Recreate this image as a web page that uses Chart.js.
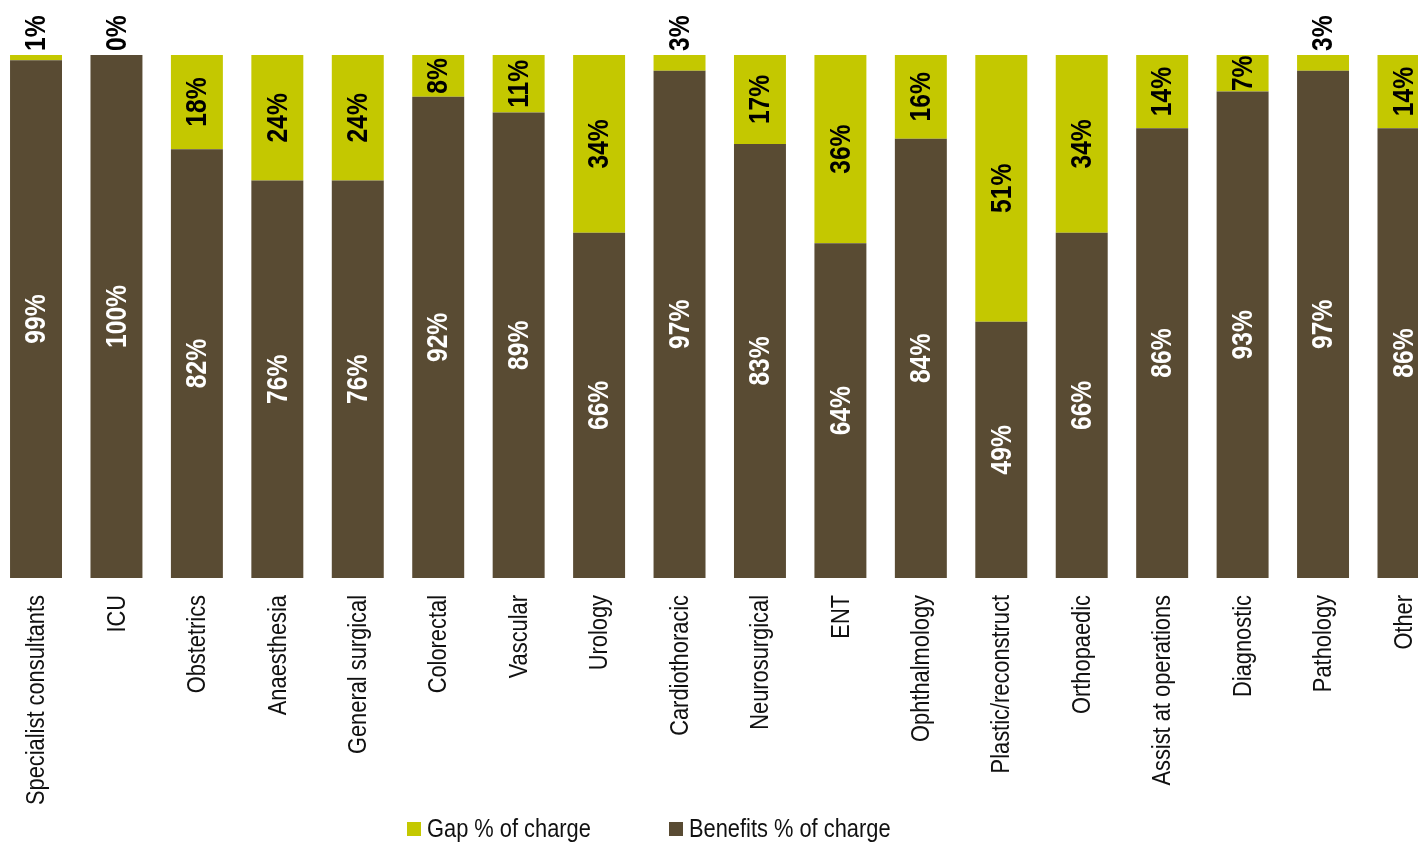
<!DOCTYPE html>
<html>
<head>
<meta charset="utf-8">
<title>Gap and benefits as % of charge</title>
<script src="https://cdn.jsdelivr.net/npm/chart.js@4.4.1/dist/chart.umd.min.js"></script>
<style>
  html, body { margin: 0; padding: 0; background: #fff; overflow: hidden; }
  #wrap { position: absolute; left: -10px; top: 0; width: 1460px; height: 847px; }
</style>
</head>
<body>
<div id="wrap"><canvas id="grafico"></canvas></div>
<script>
const categorias = ['Specialist consultants', 'ICU', 'Obstetrics', 'Anaesthesia', 'General surgical',
  'Colorectal', 'Vascular', 'Urology', 'Cardiothoracic', 'Neurosurgical', 'ENT', 'Ophthalmology',
  'Plastic/reconstruct', 'Orthopaedic', 'Assist at operations', 'Diagnostic', 'Pathology', 'Other'];
const gap = [1, 0, 18, 24, 24, 8, 11, 34, 3, 17, 36, 16, 51, 34, 14, 7, 3, 14];
const beneficios = [99, 100, 82, 76, 76, 92, 89, 66, 97, 83, 64, 84, 49, 66, 86, 93, 97, 86];

const FUENTE = '"Liberation Sans", Arial, sans-serif';
const ESTRECHO = 0.82; // compresión horizontal para imitar una fuente narrow
const ESTRECHO_TEXTO = 0.84;
const MARRON = '#594b33';
const AMARILLO = '#c4c800';

// etiquetas de valor giradas dentro de cada segmento
const etiquetasBarras = {
  id: 'etiquetasBarras',
  afterDatasetsDraw(chart) {
    const ctx = chart.ctx;
    chart.data.datasets.forEach((ds, di) => {
      const meta = chart.getDatasetMeta(di);
      meta.data.forEach((barra, i) => {
        const valor = ds.data[i];
        const arriba = Math.min(barra.y, barra.base);
        const abajo = Math.max(barra.y, barra.base);
        ctx.save();
        ctx.font = 'bold 30px ' + FUENTE;
        ctx.fillStyle = ds.colorEtiqueta;
        ctx.textBaseline = 'middle';
        if (ds.fueraSiPequeno && valor < 5) {
          // no cabe: se escribe encima de la barra
          ctx.translate(barra.x, arriba - 4);
          ctx.rotate(-Math.PI / 2);
          ctx.textAlign = 'left';
        } else {
          ctx.translate(barra.x, (arriba + abajo) / 2);
          ctx.rotate(-Math.PI / 2);
          ctx.textAlign = 'center';
        }
        ctx.scale(ESTRECHO, 1);
        ctx.fillText(valor + '%', 0, 1);
        ctx.restore();
      });
    });
  }
};

// nombres de categoría girados bajo cada barra
const etiquetasEje = {
  id: 'etiquetasEje',
  afterDraw(chart) {
    const ctx = chart.ctx;
    const eje = chart.scales.x;
    ctx.save();
    ctx.font = '26px ' + FUENTE;
    ctx.fillStyle = '#111';
    ctx.textAlign = 'right';
    ctx.textBaseline = 'middle';
    chart.data.labels.forEach((texto, i) => {
      ctx.save();
      ctx.translate(eje.getPixelForTick(i), eje.top + 17);
      ctx.rotate(-Math.PI / 2);
      ctx.scale(ESTRECHO_TEXTO, 1);
      ctx.fillText(texto, 0, 1);
      ctx.restore();
    });
    ctx.restore();
  }
};

// leyenda propia debajo del eje
const leyenda = {
  id: 'leyenda',
  afterDraw(chart) {
    const ctx = chart.ctx;
    const items = [
      { texto: 'Gap % of charge', color: AMARILLO, x: 417 },
      { texto: 'Benefits % of charge', color: MARRON, x: 679 }
    ];
    ctx.save();
    ctx.font = '26px ' + FUENTE;
    ctx.textBaseline = 'alphabetic';
    ctx.textAlign = 'left';
    items.forEach(it => {
      ctx.fillStyle = it.color;
      ctx.fillRect(it.x, 822, 14, 14);
      ctx.save();
      ctx.translate(it.x + 20, 837);
      ctx.scale(ESTRECHO_TEXTO, 1);
      ctx.fillStyle = '#111';
      ctx.fillText(it.texto, 0, 0);
      ctx.restore();
    });
    ctx.restore();
  }
};

new Chart(document.getElementById('grafico'), {
  type: 'bar',
  data: {
    labels: categorias,
    datasets: [
      {
        label: 'Benefits % of charge',
        data: beneficios,
        backgroundColor: MARRON,
        colorEtiqueta: '#ffffff',
        fueraSiPequeno: false
      },
      {
        label: 'Gap % of charge',
        data: gap,
        backgroundColor: AMARILLO,
        colorEtiqueta: '#000000',
        fueraSiPequeno: true
      }
    ]
  },
  options: {
    responsive: true,
    maintainAspectRatio: false,
    animation: false,
    layout: { padding: { top: 55, left: 5.8, right: 6.3, bottom: 0 } },
    datasets: { bar: { categoryPercentage: 1, barPercentage: 0.646 } },
    plugins: {
      legend: { display: false },
      tooltip: { enabled: false }
    },
    scales: {
      x: {
        stacked: true,
        grid: { display: false },
        border: { display: false },
        afterFit: (eje) => { eje.height = 269; },
        ticks: { display: false, autoSkip: false }
      },
      y: {
        stacked: true,
        display: false,
        min: 0,
        max: 100
      }
    }
  },
  plugins: [etiquetasBarras, etiquetasEje, leyenda]
});
</script>
</body>
</html>
